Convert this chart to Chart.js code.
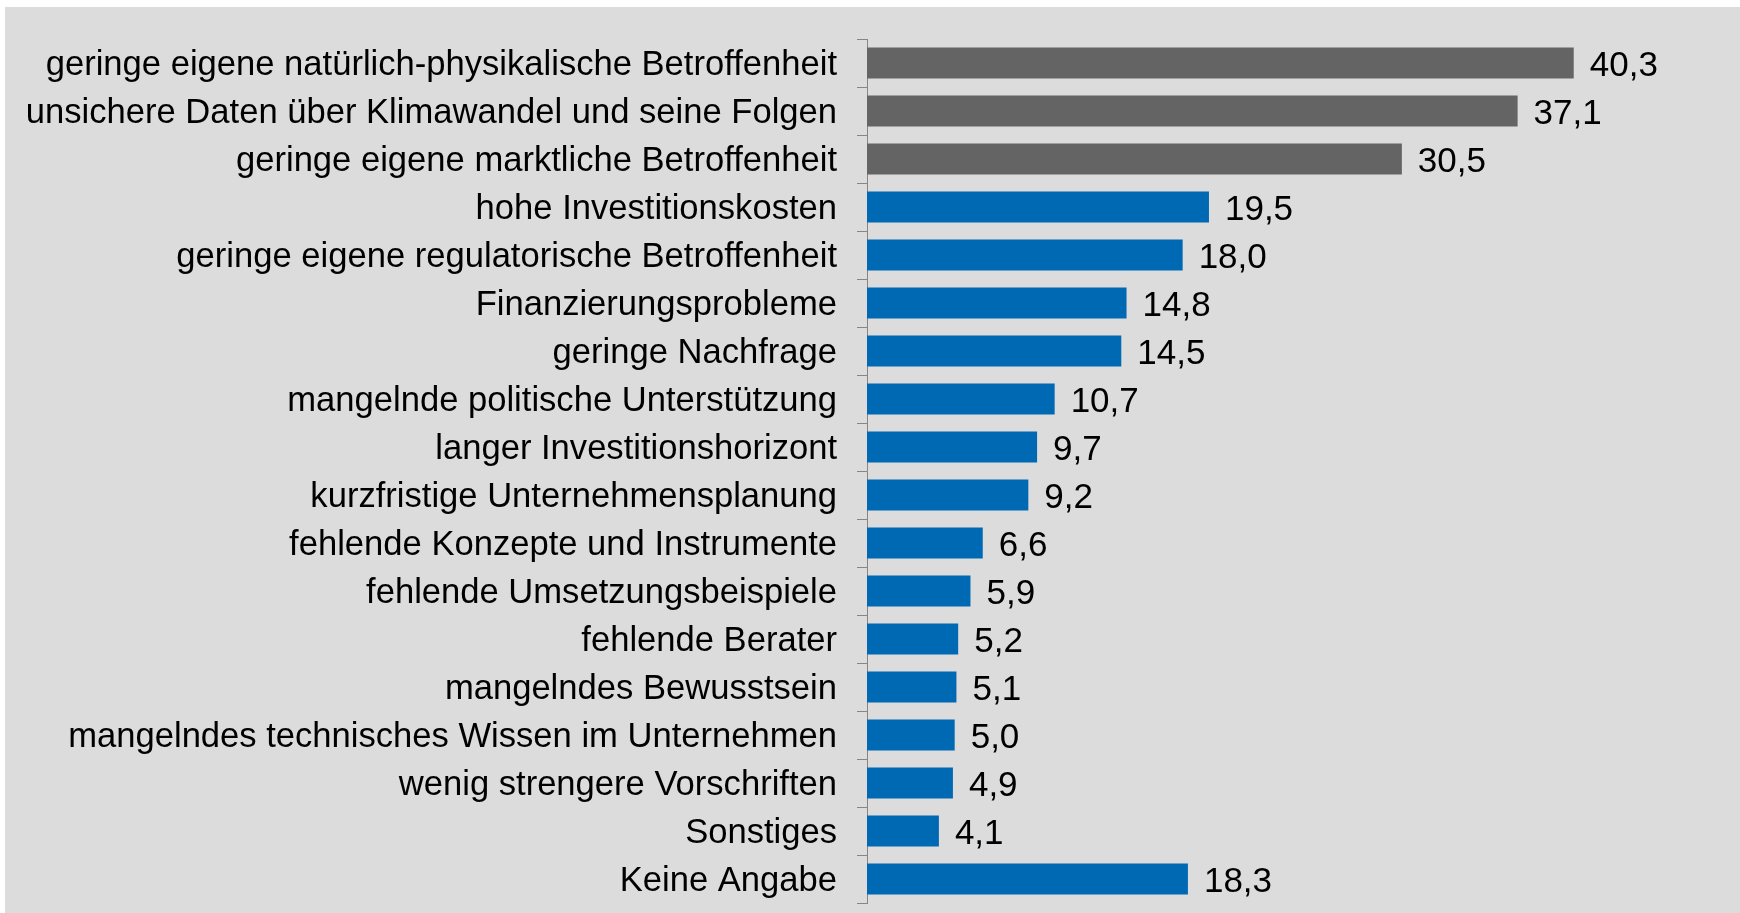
<!DOCTYPE html>
<html lang="de">
<head>
<meta charset="UTF-8">
<title>Hemmnisse der Anpassung</title>
<script src="https://cdn.jsdelivr.net/npm/chart.js"></script>
<style>
    html, body { margin: 0; padding: 0; background: #fff; }
    #rahmen {
        position: absolute;
        left: 5px; top: 7px;
        width: 1735px; height: 906px;
        background: #dcdcdc;
    }
</style>
</head>
<body>
<div id="rahmen">
    <canvas id="diagramm" width="1735" height="906"></canvas>
</div>
<script>
    const kategorien = [
        'geringe eigene natürlich-physikalische Betroffenheit',
        'unsichere Daten über Klimawandel und seine Folgen',
        'geringe eigene marktliche Betroffenheit',
        'hohe Investitionskosten',
        'geringe eigene regulatorische Betroffenheit',
        'Finanzierungsprobleme',
        'geringe Nachfrage',
        'mangelnde politische Unterstützung',
        'langer Investitionshorizont',
        'kurzfristige Unternehmensplanung',
        'fehlende Konzepte und Instrumente',
        'fehlende Umsetzungsbeispiele',
        'fehlende Berater',
        'mangelndes Bewusstsein',
        'mangelndes technisches Wissen im Unternehmen',
        'wenig strengere Vorschriften',
        'Sonstiges',
        'Keine Angabe'
    ];
    const werte = [40.3, 37.1, 30.5, 19.5, 18.0, 14.8, 14.5, 10.7, 9.7, 9.2, 6.6, 5.9, 5.2, 5.1, 5.0, 4.9, 4.1, 18.3];

    const GRAU = '#646464';
    const BLAU = '#0069b4';
    const farben = werte.map((w, i) => i < 3 ? GRAU : BLAU);

    const FAMILIE = '"Liberation Sans", Arial, sans-serif';
    const achsenSchrift = { family: FAMILIE, size: 34.6 };
    const wertSchrift = '35px ' + FAMILIE;

    // Werte rechts neben die Balken schreiben (deutsches Komma)
    const wertBeschriftung = {
        id: 'wertBeschriftung',
        afterDatasetsDraw(chart) {
            const ctx = chart.ctx;
            const meta = chart.getDatasetMeta(0);
            ctx.save();
            ctx.font = wertSchrift;
            ctx.fillStyle = '#000';
            ctx.textAlign = 'left';
            ctx.textBaseline = 'middle';
            meta.data.forEach((bar, i) => {
                const text = werte[i].toFixed(1).replace('.', ',');
                ctx.fillText(text, bar.x + 16, bar.y + 3);
            });
            ctx.restore();
        }
    };

    new Chart(document.getElementById('diagramm'), {
        type: 'bar',
        data: {
            labels: kategorien,
            datasets: [{
                data: werte,
                backgroundColor: farben,
                borderWidth: 0,
                barPercentage: 0.65,
                categoryPercentage: 1.0
            }]
        },
        options: {
            indexAxis: 'y',
            responsive: false,
            animation: false,
            layout: { padding: { top: 32, bottom: 10, left: 0, right: 33 } },
            plugins: {
                legend: { display: false },
                tooltip: { enabled: false }
            },
            scales: {
                x: {
                    display: false,
                    min: 0,
                    max: 47.9
                },
                y: {
                    afterFit(s) {
                        s.width = 862;
                        s.paddingTop = 0;
                        s.paddingBottom = 0;
                    },
                    border: { display: true, color: '#868686', width: 1 },
                    grid: {
                        drawOnChartArea: false,
                        color: '#868686',
                        tickLength: 10,
                        offset: true
                    },
                    ticks: {
                        font: achsenSchrift,
                        color: '#000',
                        padding: 20,
                        labelOffset: 2.5,
                        autoSkip: false
                    }
                }
            }
        },
        plugins: [wertBeschriftung]
    });
</script>
</body>
</html>
